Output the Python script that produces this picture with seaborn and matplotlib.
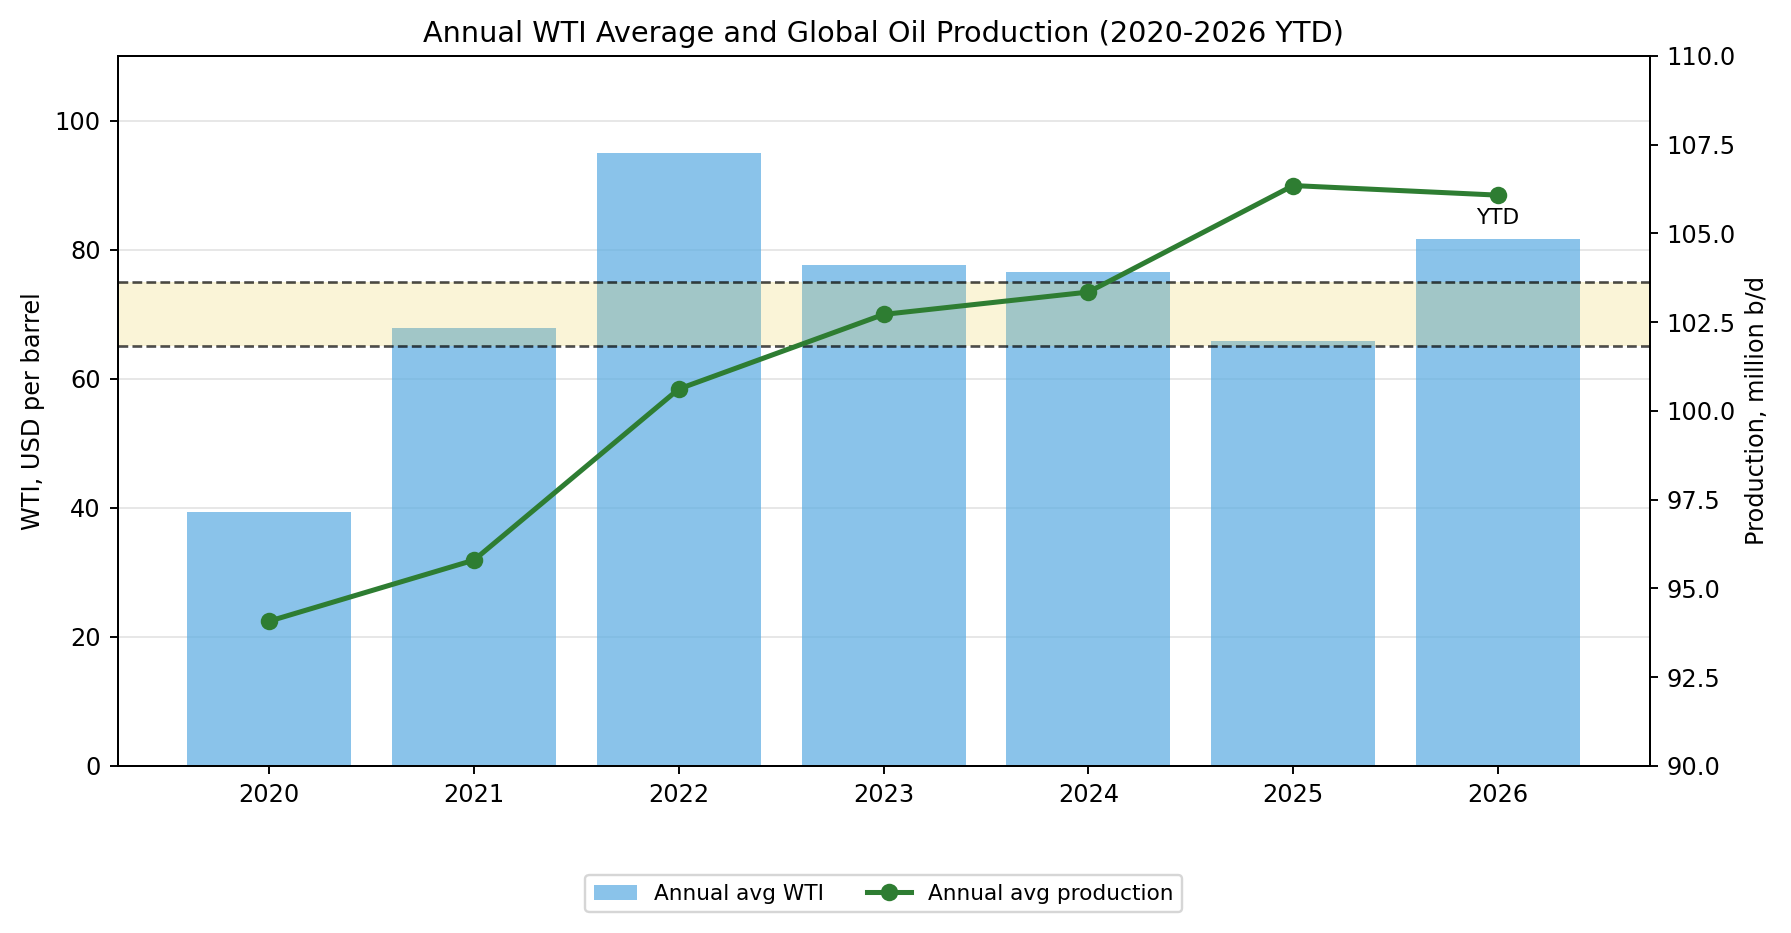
import numpy as np
import pandas as pd
import matplotlib
matplotlib.use("Agg")
import matplotlib.pyplot as plt
import seaborn as sns

# datos
years = ["2020", "2021", "2022", "2023", "2024", "2025", "2026"]
wti_avg = [39.4, 67.9, 94.9, 77.6, 76.6, 65.9, 81.6]
production = [94.08, 95.80, 100.62, 102.72, 103.35, 106.35, 106.08]
band_low, band_high = 65, 75

datos = pd.DataFrame({"year": years, "wti": wti_avg, "prod": production})
datos["pos"] = np.arange(len(years))

dpi = 172.5
fig, ax = plt.subplots(figsize=(1791 / dpi, 933 / dpi), dpi=dpi)
fig.subplots_adjust(left=0.0657, right=0.921, top=0.940, bottom=0.179)

sns.barplot(data=datos, x="year", y="wti", color="#5DADE2", alpha=0.72,
            width=0.8, saturation=1, ax=ax, label="Annual avg WTI", zorder=2)
n = len(years)
ax.set_xlim(-0.4 - 0.05 * (n - 0.2), n - 0.6 + 0.05 * (n - 0.2))
ax.set_ylim(0, 110)
ax.set_yticks([0, 20, 40, 60, 80, 100])
ax.grid(axis="y", color="#e6e6e6", linewidth=0.8, zorder=0)
ax.set_axisbelow(True)
ax.set_xlabel("")
ax.set_ylabel("WTI, USD per barrel")

# banda 65-75
ax.axhspan(band_low, band_high, color="#eed15a", alpha=0.24, linewidth=0, zorder=3)
ax.axhline(band_low, color="black", linestyle="--", linewidth=1.1, alpha=0.7, zorder=4)
ax.axhline(band_high, color="black", linestyle="--", linewidth=1.1, alpha=0.7, zorder=4)

ax2 = ax.twinx()
sns.lineplot(data=datos, x="pos", y="prod", color="#2e7d32", linewidth=2.1,
             marker="o", markersize=7.3, markeredgewidth=0, ax=ax2,
             label="Annual avg production")
ax2.set_ylim(90, 110)
ax2.set_ylabel("Production, million b/d")
ax2.set_xlabel("")
ax2.annotate("YTD", (datos["pos"].iloc[-1], production[-1]), textcoords="offset points",
             xytext=(0, -12), ha="center", fontsize=9)

h1, l1 = ax.get_legend_handles_labels()
h2, l2 = ax2.get_legend_handles_labels()
if ax2.get_legend() is not None:
    ax2.get_legend().remove()
ax.legend(h1 + h2, l1 + l2, loc="center", bbox_to_anchor=(0.5, -0.18), ncol=2,
          fontsize=9, frameon=True)

ax.set_title("Annual WTI Average and Global Oil Production (2020-2026 YTD)", fontsize=12)

plt.savefig("out.png", dpi=dpi)
